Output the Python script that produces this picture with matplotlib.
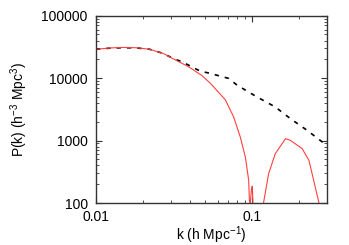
import numpy as np
import matplotlib.pyplot as plt
import matplotlib.ticker as ticker

plt.rcParams['font.family'] = ['Liberation Sans', 'DejaVu Sans']
plt.rcParams['mathtext.fontset'] = 'custom'
plt.rcParams['mathtext.rm'] = 'Liberation Sans'
plt.rcParams['mathtext.it'] = 'Liberation Sans'

# linear spectrum (dashed black)
k_lin = [0.01, 0.0125, 0.015, 0.018, 0.022, 0.027, 0.0313, 0.0355, 0.0465, 0.0525,
         0.0706, 0.0798, 0.107, 0.140, 0.175, 0.224, 0.280, 0.30]
p_lin = [29000, 30300, 30700, 30500, 29000, 24800, 20500, 18300, 12900, 12100,
         9900, 7730, 5000, 3460, 2250, 1460, 950, 830]

# measured spectrum (solid red)
k_red = [0.01, 0.0125, 0.0146, 0.018, 0.022, 0.027, 0.0313, 0.0391, 0.0476, 0.0538,
         0.0672, 0.0759, 0.0837, 0.0902, 0.0947, 0.0957, 0.0968, 0.0985, 0.0998,
         0.101, 0.103, 0.110, 0.118, 0.127, 0.140, 0.163, 0.175, 0.208, 0.230,
         0.266, 0.275]
p_red = [29000, 30500, 31000, 30700, 29000, 24800, 20300, 15200, 11000, 8300,
         4490, 2390, 1140, 545, 231, 110, 95, 160, 186,
         90, 40, 30, 103, 295, 617, 1075, 1010, 745, 483,
         103, 60]

fig = plt.figure(figsize=(3.49, 2.45), dpi=100)
ax = fig.add_axes([0.275, 0.171, 0.662, 0.765])

ax.plot(k_lin, p_lin, color='black', lw=1.2, ls=(0, (2.6, 3.6)))
ax.plot(k_red, p_red, color='#ff4040', lw=0.8)

ax.set_xscale('log')
ax.set_yscale('log')
ax.set_xlim(0.01, 0.3)
ax.set_ylim(100, 100000)

ax.xaxis.set_major_formatter(ticker.FuncFormatter(lambda x, _: f"{x:g}"))
ax.yaxis.set_major_formatter(ticker.FuncFormatter(lambda y, _: f"{y:.0f}"))
ax.xaxis.set_minor_formatter(ticker.NullFormatter())

ax.tick_params(which='both', direction='in', top=True, right=True, labelsize=10, color='#333333')
ax.tick_params(which='major', length=4, width=0.8, pad=6)
ax.tick_params(axis='x', which='major', pad=5)
ax.tick_params(which='minor', length=2, width=0.6)
for s in ax.spines.values():
    s.set_color('#333333')
    s.set_linewidth(1.0)

ax.set_xlabel("k (h Mpc$^{-1}$)", fontsize=10, labelpad=0)
ax.set_ylabel("P(k) (h$^{-3}$ Mpc$^{3}$)", fontsize=10, labelpad=8)

plt.savefig("out.png", dpi=100)
